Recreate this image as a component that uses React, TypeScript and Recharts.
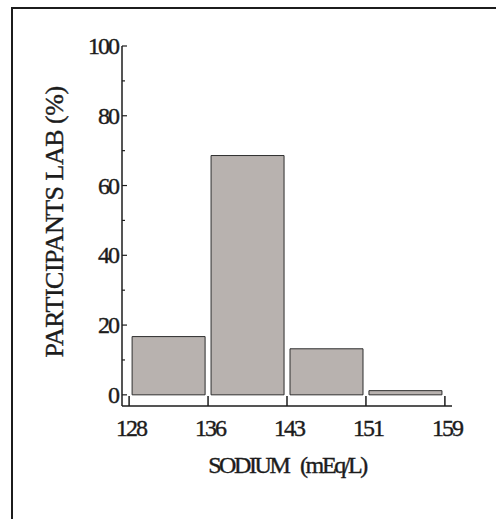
import { BarChart, Bar, XAxis, YAxis } from "recharts";

// histogram bins (sodium, mEq/L) and share of participants (%)
const binEdges = [128, 136, 143, 151, 159];
const binNames = ["128-136", "136-143", "143-151", "151-159"];
const binMids = [0.5, 1.5, 2.5, 3.5];
const percentValues = [16.7, 68.6, 13.2, 1.2];
const yTicks = [0, 10, 20, 30, 40, 50, 60, 70, 80, 90, 100];

const ink = "#1c1c1c";
const font = "'Liberation Serif', 'DejaVu Serif', serif";

const data = binNames.map((name, i) => ({
  name,
  mid: binMids[i],
  value: percentValues[i],
}));

const YTick = (props: any) => {
  const { x, y, payload } = props;
  const major = payload.value % 20 === 0;
  return (
    <g>
      <line x1={x} x2={x + (major ? 5 : 3)} y1={y} y2={y} stroke={ink} strokeWidth={1.2} />
      {major && (
        <text
          x={x - 4}
          y={y}
          dy={8}
          textAnchor="end"
          fontFamily={font}
          fontSize={24}
          letterSpacing={-2}
          fill={ink}
          stroke={ink}
          strokeWidth={0.4}
        >
          {payload.value}
        </text>
      )}
    </g>
  );
};

const XTick = (props: any) => {
  const { x, y, payload } = props;
  return (
    <g>
      <line x1={x} x2={x} y1={y} y2={y - 10} stroke={ink} strokeWidth={1.5} />
      <text
        x={x + 2}
        y={y + 30}
        textAnchor="middle"
        fontFamily={font}
        fontSize={24}
        letterSpacing={-2}
        fill={ink}
        stroke={ink}
        strokeWidth={0.4}
      >
        {binEdges[payload.value]}
      </text>
    </g>
  );
};

const YTitle = (props: any) => {
  const vb = props.viewBox;
  const cx = vb.x + 63;
  const cy = vb.y + vb.height / 2 - 4;
  return (
    <text
      x={cx}
      y={cy}
      transform={`rotate(-90, ${cx}, ${cy})`}
      textAnchor="middle"
      fontFamily={font}
      fontSize={26}
      letterSpacing={-0.5}
      fill={ink}
      stroke={ink}
      strokeWidth={0.4}
    >
      PARTICIPANTS LAB (%)
    </text>
  );
};

const XTitle = (props: any) => {
  const vb = props.viewBox;
  return (
    <text
      x={vb.x + vb.width / 2}
      y={vb.y + vb.height}
      textAnchor="middle"
      fontFamily={font}
      fontSize={24}
      letterSpacing={-2.4}
      wordSpacing={8}
      fill={ink}
      stroke={ink}
      strokeWidth={0.4}
    >
      SODIUM (mEq/L)
    </text>
  );
};

export default function App() {
  return (
    <div
      style={{
        position: "absolute",
        left: 0,
        top: 0,
        width: 496,
        height: 519,
        overflow: "hidden",
        background: "#fff",
      }}
    >
      <div
        style={{
          position: "absolute",
          left: 11,
          top: 7,
          width: 500,
          height: 530,
          borderLeft: `2px solid ${ink}`,
          borderTop: `2px solid ${ink}`,
        }}
      />
      <div style={{ position: "absolute", left: 0, top: 0 }}>
        <BarChart
          width={496}
          height={519}
          data={data}
          margin={{ top: 46, right: 44, left: 0, bottom: 46 }}
        >
          <XAxis
            dataKey="mid"
            type="number"
            domain={[-0.09, 4.09]}
            ticks={[0, 1, 2, 3, 4]}
            tick={<XTick />}
            tickLine={false}
            tickSize={0}
            tickMargin={0}
            axisLine={{ stroke: ink, strokeWidth: 1.5 }}
            height={67}
            allowDataOverflow
            label={<XTitle />}
          />
          <YAxis
            type="number"
            domain={[-3.2, 100]}
            ticks={yTicks}
            tick={<YTick />}
            tickLine={false}
            tickSize={0}
            tickMargin={0}
            axisLine={{ stroke: ink, strokeWidth: 1.5 }}
            width={122}
            allowDataOverflow
            interval={0}
            label={<YTitle />}
          />
          <Bar
            dataKey="value"
            barSize={73}
            fill="#b8b2af"
            stroke="#2e2e2e"
            strokeWidth={1}
            isAnimationActive={false}
          />
        </BarChart>
      </div>
    </div>
  );
}
